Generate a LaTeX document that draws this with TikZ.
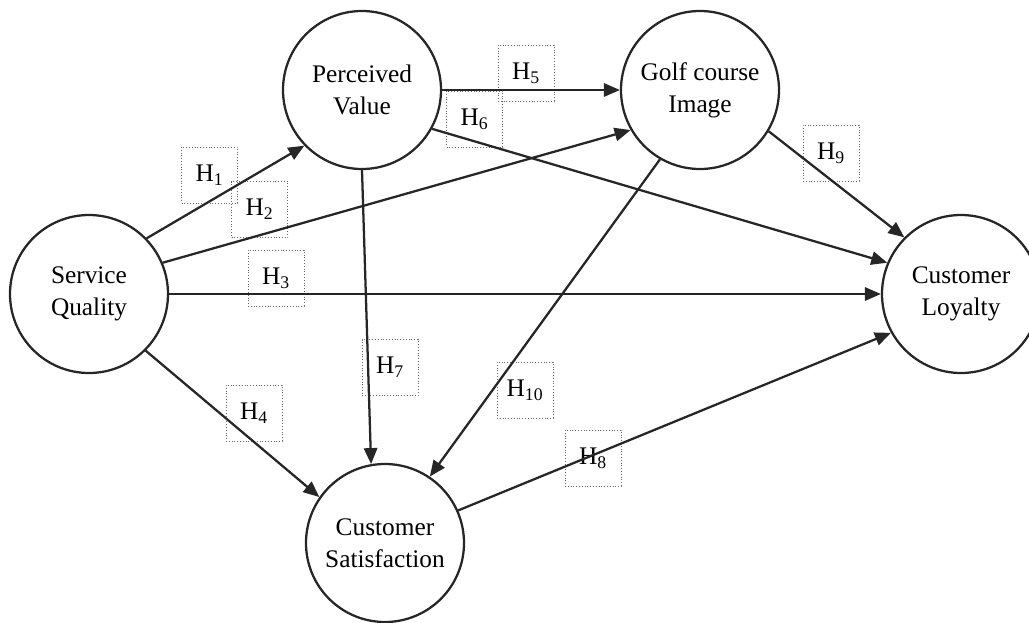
\documentclass[tikz,border=0pt]{standalone}
\usepackage{fontspec}
\setmainfont{Liberation Serif}
\usetikzlibrary{arrows.meta}
\begin{document}
\begin{tikzpicture}[x=0.75pt,y=-0.75pt,
  construct/.style={circle,draw=black!85,line width=1.7pt,minimum size=118.5pt,inner sep=0pt,align=center,font=\fontsize{19}{24}\selectfont},
  hyp/.style={draw=black!60,line width=0.6pt,dash pattern=on 0.7pt off 1.4pt,minimum width=42pt,minimum height=42pt,inner sep=0pt,font=\fontsize{19}{22}\selectfont},
  arr/.style={line width=1.7pt,draw=black!85,-{Triangle[length=12pt,width=10pt]}}]
\useasboundingbox (0,0) rectangle (1029,622);
% hypothesis boxes
\node[hyp] (h1) at (209.5,175) {H\textsubscript{1}};
\node[hyp] (h2) at (259.5,209.5) {H\textsubscript{2}};
\node[hyp] (h3) at (276,278) {H\textsubscript{3}};
\node[hyp] (h4) at (254,413) {H\textsubscript{4}};
\node[hyp] (h5) at (526,73) {H\textsubscript{5}};
\node[hyp] (h6) at (474.5,119) {H\textsubscript{6}};
\node[hyp] (h7) at (390,367.5) {H\textsubscript{7}};
\node[hyp] (h8) at (593,458) {H\textsubscript{8}};
\node[hyp] (h9) at (831,153) {H\textsubscript{9}};
\node[hyp] (h10) at (525,390) {H\textsubscript{10}};
% constructs
\node[construct] (sq) at (89,294) {Service\\Quality};
\node[construct] (pv) at (362,90) {Perceived\\Value};
\node[construct] (gi) at (700,90) {Golf course\\Image};
\node[construct] (cl) at (961,294) {Customer\\Loyalty};
\node[construct] (cs) at (385,543) {Customer\\Satisfaction};
% paths
\draw[arr] (sq.44.5) -- (pv.224);
\draw[arr] (sq.23) -- (gi.210);
\draw[arr] (sq.0) -- (cl.180);
\draw[arr] (sq.-45) -- (cs.145.5);
\draw[arr] (pv.0) -- (gi.180);
\draw[arr] (pv.-29) -- (cl.157);
\draw[arr] (pv.270) -- (cs.100.6);
\draw[arr] (cs.24) -- (cl.209.5);
\draw[arr] (gi.-31) -- (cl.135.5);
\draw[arr] (gi.240) -- (cs.56.5);
\end{tikzpicture}
\end{document}
